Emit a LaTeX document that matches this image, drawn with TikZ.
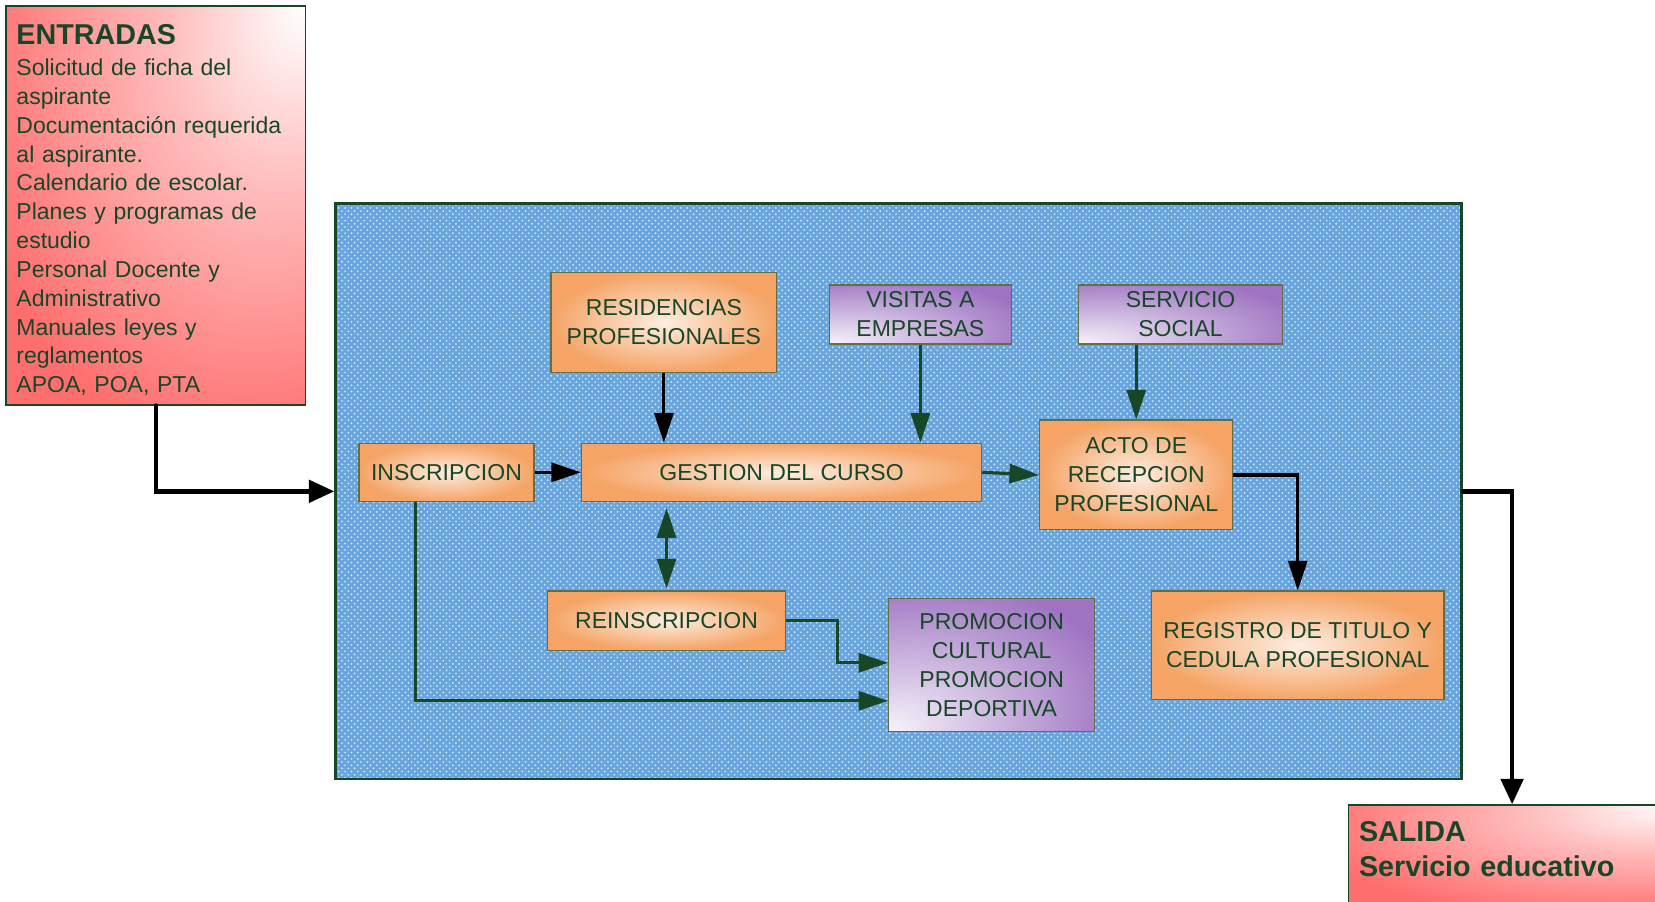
\documentclass[tikz,border=0pt]{standalone}
\usepackage{fontspec}
\setmainfont{Liberation Sans}
\usetikzlibrary{arrows.meta,shapes,patterns}

\definecolor{verdeosc}{RGB}{24,70,40}
\definecolor{naranja}{RGB}{245,164,102}
\definecolor{naranjaclaro}{RGB}{253,238,226}
\definecolor{morado}{RGB}{158,116,194}
\definecolor{moradoclaro}{RGB}{247,243,251}
\definecolor{rojo}{RGB}{255,110,110}
\definecolor{azul}{RGB}{104,165,220}
\definecolor{azulclaro}{RGB}{200,226,247}
\definecolor{borde}{RGB}{100,110,70}

\pgfdeclareradialshading{rojizo}{\pgfpoint{25bp}{25bp}}{color(0bp)=(white); color(18bp)=(rojo!45!white); color(45bp)=(rojo); color(100bp)=(rojo)}
\pgfdeclareradialshading{lilaluz}{\pgfpoint{-25bp}{-25bp}}{color(0bp)=(moradoclaro); color(20bp)=(morado!50!white); color(45bp)=(morado); color(100bp)=(morado)}

\tikzset{
  caja/.style={draw=borde, line width=0.6pt, inner sep=0pt, align=center,
    text=verdeosc, font=\fontsize{10.9}{13.75}\selectfont},
  naranjo/.style={caja, inner color=naranjaclaro, outer color=naranja},
  lila/.style={caja, shading=lilaluz},
  rosa/.style={draw=verdeosc, line width=0.6pt, shading=rojizo, text=verdeosc, align=left,
    inner sep=0pt, inner xsep=5pt, anchor=north west},
  negra/.style={-{Triangle[length=14pt,width=9pt]}, line width=1.5pt, black},
  verde/.style={-{Triangle[length=14pt,width=9pt]}, line width=1.5pt, verdeosc},
  gruesa/.style={-{Triangle[length=12pt,width=10.5pt]}, line width=2.1pt, black, line cap=round}
}

\begin{document}
\begin{tikzpicture}[x=0.5pt, y=-0.5pt]
  \useasboundingbox (0,0) rectangle (1568,854);
  \node[draw=verdeosc, line width=1.3pt, preaction={fill=azul}, pattern=crosshatch dots,
    pattern color=azulclaro, minimum width=533.5pt, minimum height=272.5pt] (marco) at (851.5,465.5) {};
  \node[rosa, text width=132pt, minimum height=189pt, font=\fontsize{10.9}{13.65}\selectfont] (entradas) at (5,5)
    {\rule{0pt}{14pt}{\fontsize{13.6}{16}\selectfont\bfseries ENTRADAS}\\[1pt]
     Solicitud de ficha del\\ aspirante\\ Documentación requerida\\ al aspirante.\\
     Calendario de escolar.\\ Planes y programas de\\ estudio\\ Personal Docente y\\
     Administrativo\\ Manuales leyes y\\ reglamentos\\ APOA, POA, PTA};
  \node[rosa, text width=145pt, inner ysep=8pt, text depth=22pt,
    font=\fontsize{13.6}{16.5}\selectfont\bfseries] (salida) at (1277,762)
    {SALIDA\\ Servicio educativo};
  \node[naranjo, minimum width=107pt, minimum height=47.5pt] (residencias) at (629,305.5) {RESIDENCIAS\\ PROFESIONALES};
  \node[lila, minimum width=86pt, minimum height=28pt] (visitas) at (872,298) {VISITAS A\\ EMPRESAS};
  \node[lila, minimum width=96.5pt, minimum height=28pt] (servicio) at (1118.5,298) {SERVICIO\\ SOCIAL};
  \node[naranjo, minimum width=83pt, minimum height=27.5pt] (inscripcion) at (423,447.5) {INSCRIPCION};
  \node[naranjo, minimum width=189.5pt, minimum height=27.5pt] (gestion) at (740.5,447.5) {GESTION DEL CURSO};
  \node[naranjo, minimum width=91.5pt, minimum height=52pt] (acto) at (1076.5,450) {ACTO DE\\ RECEPCION\\ PROFESIONAL};
  \node[naranjo, minimum width=112.5pt, minimum height=28pt] (reinscripcion) at (631.5,588) {REINSCRIPCION};
  \node[lila, minimum width=97.5pt, minimum height=63pt] (promocion) at (939.5,630) {PROMOCION\\ CULTURAL\\ PROMOCION\\ DEPORTIVA};
  \node[naranjo, minimum width=138.5pt, minimum height=51.5pt] (registro) at (1229.5,611.5) {REGISTRO DE TITULO Y\\ CEDULA PROFESIONAL};
  % flechas
  \draw[gruesa] (entradas.south) |- (marco.west);
  \draw[gruesa] (marco.east) -| (salida.north);
  \draw[negra] (inscripcion.east) -- (gestion.west);
  \draw[negra] (residencias.south) -- (residencias.south |- gestion.north);
  \draw[verde] (visitas.south) -- (visitas.south |- gestion.north);
  \draw[verde] (acto.north |- servicio.south) -- (acto.north);
  \draw[verde] (gestion.east) -- (acto.west);
  \draw[negra] (acto.east) -| (registro.north);
  \draw[verde, {Triangle[length=14pt,width=9pt]}-{Triangle[length=14pt,width=9pt]}, shorten <=3pt, shorten >=1pt]
    (gestion.south -| reinscripcion.north) -- (reinscripcion.north);
  \draw[verde] (reinscripcion.east) -- ++(49,0) |- ([yshift=1pt]promocion.west);
  \draw[verde] ([xshift=-14.5pt]inscripcion.south) |- ([yshift=-17pt]promocion.west);
\end{tikzpicture}
\end{document}
